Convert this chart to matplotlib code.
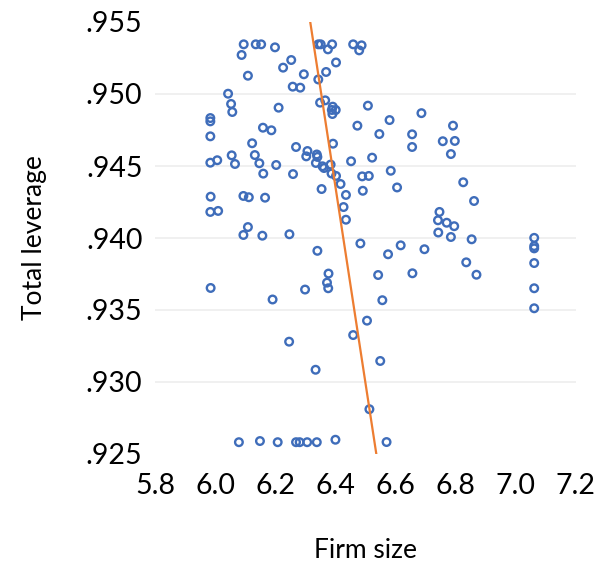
import matplotlib
matplotlib.use("Agg")
import matplotlib.pyplot as plt

# Firm size (x) and total leverage (y)
firm_size = [
    6.095, 6.135, 6.153, 6.199, 6.088, 6.253, 6.226, 6.109, 6.295, 6.258,
    6.283, 6.043, 6.053, 6.057, 6.211, 5.984, 5.984, 5.984, 6.159, 6.187,
    6.123, 6.269, 6.307, 6.303, 6.055, 6.132, 5.984, 6.007, 6.066, 6.147,
    6.203, 6.160, 6.259, 5.985, 6.094, 6.112, 6.166, 5.984, 6.010, 6.109,
    6.094, 6.157, 6.247,
    6.343, 6.351, 6.389, 6.375, 6.459, 6.487, 6.479, 6.402, 6.369, 6.343,
    6.349, 6.366, 6.391, 6.388, 6.401, 6.390, 6.508, 6.686, 6.580, 6.473,
    6.546, 6.655, 6.655, 6.392, 6.338, 6.340, 6.335, 6.357, 6.362, 6.384,
    6.452, 6.522, 6.387, 6.402, 6.489, 6.511, 6.584, 6.354, 6.417, 6.435,
    6.491, 6.605, 6.427, 6.435,
    6.791, 6.757, 6.797, 6.784, 6.825, 6.861, 6.746, 6.741, 6.770, 6.795,
    6.742, 6.784, 6.853, 7.061,
    7.061, 7.061, 7.061, 7.061, 7.061, 6.575, 6.617, 6.696, 6.835, 6.869,
    6.656, 6.542, 6.556, 6.549, 6.570, 6.340, 6.483, 6.377, 6.372, 6.376,
    6.505, 6.459, 6.334, 6.513, 6.338, 6.400, 5.985, 6.191, 6.299, 6.246,
    6.079, 6.149, 6.208, 6.269, 6.281, 6.306,
]
total_leverage = [
    .95345, .95345, .95345, .95324, .95271, .95236, .95183, .95127, .95137, .95051,
    .95044, .95002, .94931, .94875, .94905, .94833, .94810, .94706, .94766, .94748,
    .94658, .94632, .94604, .94567, .94574, .94576, .94523, .94540, .94514, .94519,
    .94507, .94447, .94444, .94287, .94292, .94283, .94280, .94181, .94188, .94076,
    .94021, .94016, .94026,
    .95345, .95345, .95345, .95310, .95345, .95338, .95303, .95219, .95153, .95101,
    .94940, .94956, .94912, .94889, .94889, .94861, .94919, .94867, .94819, .94780,
    .94722, .94720, .94632, .94655, .94580, .94563, .94521, .94498, .94486, .94510,
    .94533, .94558, .94448, .94431, .94428, .94431, .94467, .94340, .94375, .94299,
    .94328, .94351, .94215, .94127,
    .94780, .94672, .94674, .94583, .94387, .94257, .94181, .94123, .94106, .94082,
    .94038, .94007, .93991, .94001,
    .93944, .93928, .93826, .93651, .93512, .93887, .93949, .93922, .93831, .93745,
    .93755, .93743, .93568, .93146, .92583, .93911, .93962, .93753, .93690, .93651,
    .93426, .93326, .93085, .92811, .92582, .92599, .93653, .93573, .93642, .93280,
    .92582, .92590, .92582, .92582, .92582, .92582,
]

# Trend line end points
trend_x = [6.3155, 6.536]
trend_y = [0.9551, 0.925]

x_ticks = [5.8, 6.0, 6.2, 6.4, 6.6, 6.8, 7.0, 7.2]
x_tick_labels = ["5.8", "6.0", "6.2", "6.4", "6.6", "6.8", "7.0", "7.2"]
y_ticks = [0.925, 0.930, 0.935, 0.940, 0.945, 0.950, 0.955]
y_tick_labels = [".925", ".930", ".935", ".940", ".945", ".950", ".955"]

plt.rcParams['font.family'] = ['Lato', 'DejaVu Sans']

fig = plt.figure(figsize=(6.08, 5.69), dpi=100)
ax = fig.add_axes([155/608, 1 - 454/569, (576 - 155)/608, (454 - 22)/569])

ax.scatter(firm_size, total_leverage, s=30, facecolors='none',
           edgecolors='#3F6DBA', linewidths=1.7, zorder=3, clip_on=False)
ax.plot(trend_x, trend_y, color='#ED7D31', linewidth=1.6, zorder=4)

ax.set_xlim(5.8, 7.2)
ax.set_ylim(0.925, 0.955)
ax.set_xticks(x_ticks)
ax.set_xticklabels(x_tick_labels)
ax.set_yticks(y_ticks)
ax.set_yticklabels(y_tick_labels)

for s in ax.spines.values():
    s.set_visible(False)
ax.tick_params(axis='both', length=0, labelsize=20.5, colors='black')
ax.tick_params(axis='y', pad=9)
ax.tick_params(axis='x', pad=14)

ax.yaxis.grid(True, color='#EFEFEF', linewidth=1.3, zorder=0)
ax.set_axisbelow(True)
gl = ax.yaxis.get_gridlines()
gl[0].set_visible(False)
gl[-1].set_visible(False)

ax.set_xlabel("Firm size", fontsize=19, labelpad=28)
ax.set_ylabel("Total leverage", fontsize=19, labelpad=28)

fig.savefig("out.png", dpi=100)
